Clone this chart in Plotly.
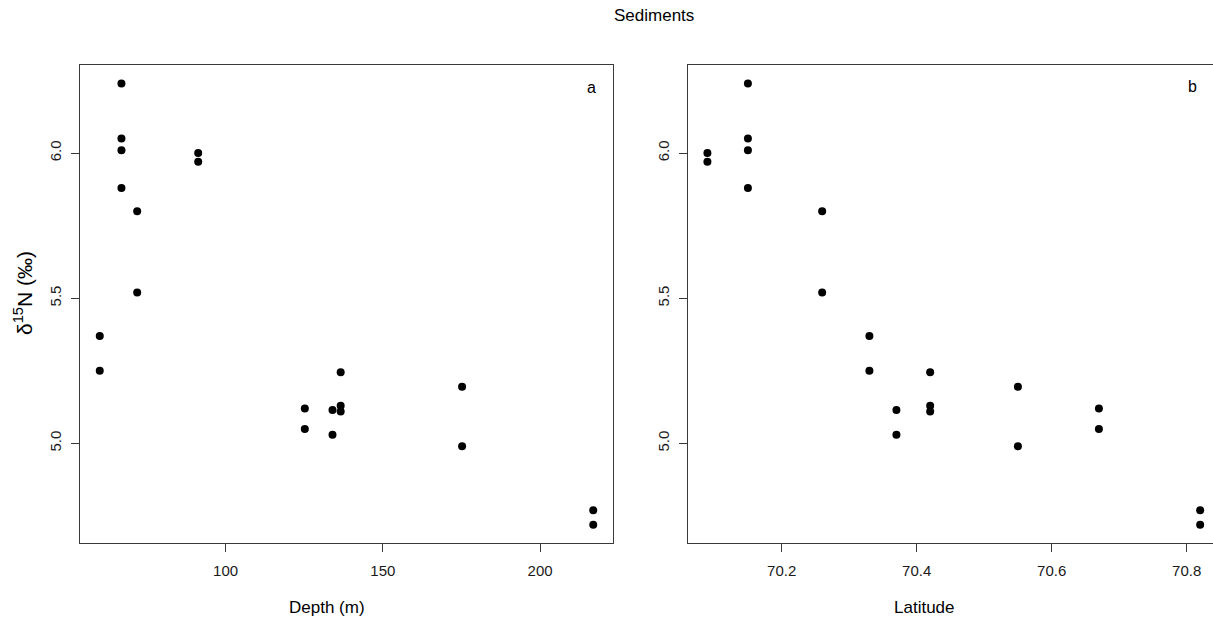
import plotly.graph_objects as go

# Data
depth_m = [66.9, 66.9, 66.9, 66.9, 71.9, 71.9, 91.3, 91.3, 60.0, 60.0, 125.2, 125.2,
           134.0, 134.0, 136.6, 136.6, 136.6, 175.2, 175.2, 216.9, 216.9]
latitude = [70.15, 70.15, 70.15, 70.15, 70.26, 70.26, 70.09, 70.09, 70.33, 70.33, 70.67, 70.67,
            70.37, 70.37, 70.42, 70.42, 70.42, 70.55, 70.55, 70.82, 70.82]
d15n = [6.24, 6.05, 6.01, 5.88, 5.80, 5.52, 6.00, 5.97, 5.37, 5.25, 5.12, 5.05,
        5.115, 5.03, 5.245, 5.13, 5.11, 5.195, 4.99, 4.77, 4.72]

x_ticks_depth = [100, 150, 200]
x_ticks_lat = [70.2, 70.4, 70.6, 70.8]
y_ticks = [5.0, 5.5, 6.0]
y_tick_text = ["5.0", "5.5", "6.0"]

W, H = 1213, 624
ML, MR, MT, MB = 80, 0, 65, 81
PW = W - ML - MR
PH = H - MT - MB


def px_x(p):
    return (p - ML) / PW


def px_y(p):
    return (H - MB - p) / PH


FONT = "Liberation Sans, Arial, Helvetica, sans-serif"
LINE = "#3a3a3a"

fig = go.Figure()
fig.add_trace(go.Scatter(x=depth_m, y=d15n, mode="markers", xaxis="x", yaxis="y",
                         marker=dict(color="black", size=8), showlegend=False))
fig.add_trace(go.Scatter(x=latitude, y=d15n, mode="markers", xaxis="x2", yaxis="y2",
                         marker=dict(color="black", size=8), showlegend=False))

axis_common = dict(showgrid=False, zeroline=False, showline=True, linecolor=LINE, linewidth=1,
                   ticks="outside", ticklen=8, tickwidth=1, tickcolor=LINE,
                   tickfont=dict(family=FONT, size=15, color="#1a1a1a"))

yr = [4.657, 6.3034]

fig.update_layout(
    width=W, height=H,
    margin=dict(l=ML, r=MR, t=MT, b=MB, pad=0),
    paper_bgcolor="white", plot_bgcolor="white",
    xaxis=dict(domain=[0, px_x(613)], range=[53.72, 223.18], tickvals=x_ticks_depth,
               mirror=True, anchor="y", ticklabelstandoff=6, **axis_common),
    yaxis=dict(domain=[0, 1], range=yr, tickvals=y_ticks, ticktext=y_tick_text,
               tickangle=-90, mirror=True, anchor="x", ticklabelstandoff=4, **axis_common),
    xaxis2=dict(domain=[px_x(687.7), 1], range=[70.0608, 70.0608 + (W - 687.7) / 675.0],
                tickvals=x_ticks_lat, tickformat=".1f", mirror=True, anchor="y2",
                ticklabelstandoff=6, **axis_common),
    yaxis2=dict(domain=[0, 1], range=yr, tickvals=y_ticks, ticktext=y_tick_text,
                tickangle=-90, mirror=False, anchor="x2", ticklabelstandoff=4, **axis_common),
    annotations=[
        dict(text="Sediments", x=px_x(654), y=px_y(15), xref="paper", yref="paper",
             showarrow=False, font=dict(family=FONT, size=17, color="black"),
             xanchor="center", yanchor="middle"),
        dict(text="Depth (m)", x=px_x(327), y=px_y(607), xref="paper", yref="paper",
             showarrow=False, font=dict(family=FONT, size=17, color="black"),
             xanchor="center", yanchor="middle"),
        dict(text="Latitude", x=px_x(924), y=px_y(607), xref="paper", yref="paper",
             showarrow=False, font=dict(family=FONT, size=17, color="black"),
             xanchor="center", yanchor="middle"),
        dict(text="δ<sup>15</sup>N (‰)", x=px_x(23), y=px_y(293), xref="paper", yref="paper",
             showarrow=False, textangle=-90, font=dict(family=FONT, size=21, color="black"),
             xanchor="center", yanchor="middle"),
        dict(text="a", x=px_x(591), y=px_y(87.5), xref="paper", yref="paper",
             showarrow=False, font=dict(family=FONT, size=16, color="black"),
             xanchor="center", yanchor="middle"),
        dict(text="b", x=px_x(1192), y=px_y(87), xref="paper", yref="paper",
             showarrow=False, font=dict(family=FONT, size=16, color="black"),
             xanchor="center", yanchor="middle"),
    ],
)

fig.write_html("out.html")
